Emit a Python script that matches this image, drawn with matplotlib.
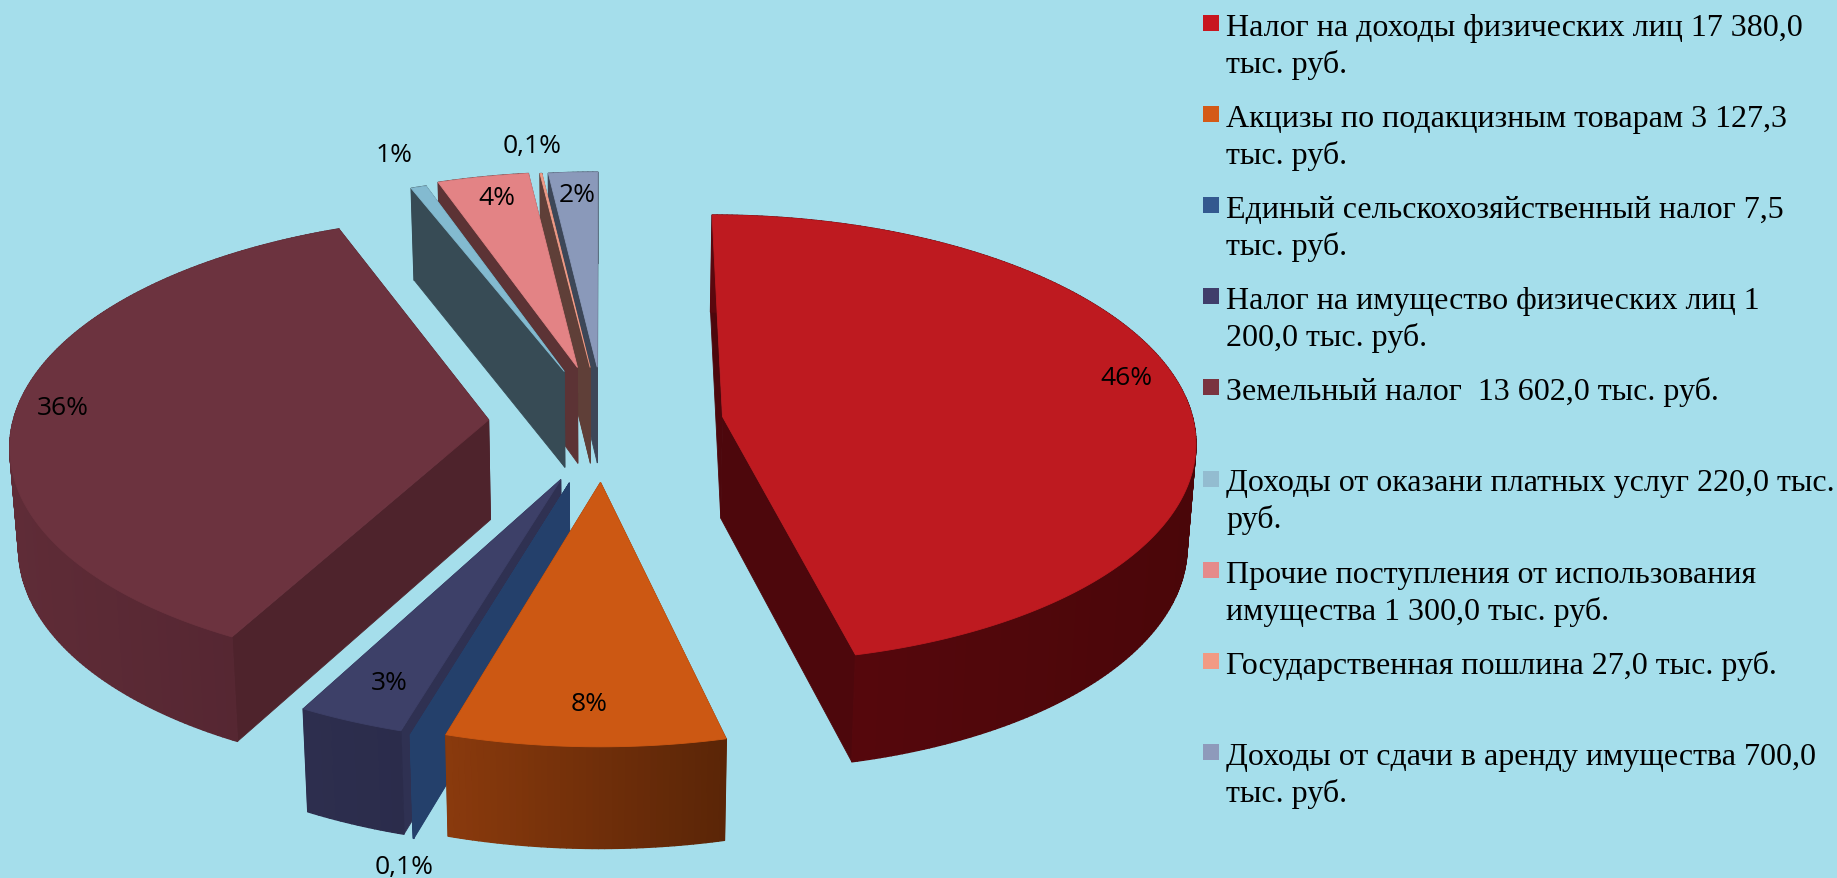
import numpy as np
import matplotlib
matplotlib.use("Agg")
import matplotlib.pyplot as plt
from matplotlib.collections import PolyCollection
from matplotlib.colors import to_rgb

# ---- data ----
names = ["Налог на доходы физических лиц 17 380,0\nтыс. руб.",
         "Акцизы по подакцизным товарам 3 127,3\nтыс. руб.",
         "Единый сельскохозяйственный налог 7,5\nтыс. руб.",
         "Налог на имущество физических лиц 1\n200,0 тыс. руб.",
         "Земельный налог  13 602,0 тыс. руб.",
         "Доходы от оказани платных услуг 220,0 тыс.\nруб.",
         "Прочие поступления от использования\nимущества 1 300,0 тыс. руб.",
         "Государственная пошлина 27,0 тыс. руб.",
         "Доходы от сдачи в аренду имущества 700,0\nтыс. руб."]
values = [17380.0, 3127.3, 7.5, 1200.0, 13602.0, 220.0, 1300.0, 27.0, 700.0]
pct_labels = ["46%", "8%", "0,1%", "3%", "36%", "1%", "4%", "0,1%", "2%"]

# ---- style ----
BG = "#A5DEEB"
legend_colors = ["#C8161F", "#D45A17", "#33598F", "#403E6B", "#7A3440",
                 "#93BCD0", "#E58A8B", "#F29A84", "#8E9ABB"]
top_colors = ["#BE1A20", "#CC5813", "#24406B", "#3D4068", "#6C333F",
              "#83BAD0", "#E38385", "#F09C88", "#8A99BA"]
cut_colors = ["#4D070C", "#6E2E0C", "#24406B", "#2F3152", "#4E232C",
              "#374B55", "#5C3335", "#5F3F38", "#3D4758"]
side_left = ["#5A080E", "#8A3A0D", "#24406B", "#2D2E4E", "#5F2C37",
             "#374B55", "#5C3335", "#5F3F38", "#3D4758"]
side_right = ["#4A0609", "#5A2507", "#24406B", "#2B2C4B", "#512430",
              "#374B55", "#5C3335", "#5F3F38", "#3D4758"]
explode = [0.245, 0.265, 0.27, 0.265, 0.245, 0.25, 0.25, 0.25, 0.25]
radius = [0.99, 1, 1, 1, 1, 1, 1, 1, 1]
depth_scale = [1.05, 0.98, 1, 1, 1.03, 1, 1, 1, 1]
nudge = [(4, 2), (1, 0), (4, 2), (7, 2), (2, 2), (2, 2), (1, 0), (1, 1), (1, 1)]
label_xy = [(1126, 379), (589, 705), (404, 868), (389, 684), (63, 409),
            (394, 155), (497, 199), (532, 147), (577, 196)]
draw_order = [8, 7, 6, 5, 4, 3, 2, 1, 0]

# camera of the tilted pie
X0, Y0, SX, SY, PERSP, DEPTH, SHRINK = 603, 422, 476, 225, 0.10, 97, 0.985

# legend layout
LEG_X, LEG_SW_X, LEG_Y0, LEG_STEP, LEG_LINE = 1226, 1203, 36, 91.1, 37

plt.rcParams["font.family"] = ["Liberation Serif"]
fig = plt.figure(figsize=(18.37, 8.79), dpi=100, facecolor=BG)
ax = fig.add_axes([0, 0, 1, 1])
ax.set_xlim(0, 1837)
ax.set_ylim(879, 0)
ax.axis("off")


def project(u, v, off, bottom=False, scale=1.0):
    w = 1 + PERSP * v
    x = X0 + SX * u / w
    y = Y0 - SY * v / w
    if bottom:
        x = X0 + (x - X0) * SHRINK
        y = y + scale * DEPTH / np.sqrt(w)
    return x + off[0], y + off[1]


def poly(pts, color, z):
    ax.fill(*zip(*pts), color=color, lw=0.6, zorder=z)


shares = np.array(values) / np.sum(values) * 360.0
ends = np.cumsum(shares)
starts = ends - shares

z = 1
for i in draw_order:
    a0, a1 = starts[i], ends[i]
    off, ds = nudge[i], depth_scale[i]
    mid = np.radians((a0 + a1) / 2)
    cu, cv = explode[i] * np.sin(mid), explode[i] * np.cos(mid)
    th = np.radians(np.linspace(a0, a1, max(int((a1 - a0) * 1.5), 2) + 1))
    us, vs = cu + radius[i] * np.sin(th), cv + radius[i] * np.cos(th)
    # radial cut faces
    for k in (0, -1):
        quad = [project(cu, cv, off), project(us[k], vs[k], off),
                project(us[k], vs[k], off, True, ds),
                project(cu, cv, off, True, ds)]
        poly(quad, cut_colors[i], z)
    z += 1
    # outer wall with a left to right gradient
    xt, yt = project(us, vs, off)
    xb, yb = project(us, vs, off, True, ds)
    quads, cols = [], []
    lo, hi = min(xt.min(), xb.min()), max(xt.max(), xb.max())
    cl, cr = np.array(to_rgb(side_left[i])), np.array(to_rgb(side_right[i]))
    for k in range(len(th) - 1):
        quads.append([(xt[k], yt[k]), (xt[k + 1], yt[k + 1]),
                      (xb[k + 1], yb[k + 1]), (xb[k], yb[k])])
        f = ((xt[k] + xt[k + 1]) / 2 - lo) / max(hi - lo, 1)
        cols.append(cl + (cr - cl) * f)
    ax.add_collection(PolyCollection(quads, facecolors=cols, edgecolors=cols,
                                     linewidths=1.0, zorder=z))
    z += 1
    # top face
    poly([project(cu, cv, off)] + list(zip(xt, yt)), top_colors[i], z)
    z += 1

for lab, (x, y) in zip(pct_labels, label_xy):
    ax.text(x, y, lab, ha="center", va="center", fontsize=19,
            family="Open Sans", color="black", zorder=100)

for i, (name, col) in enumerate(zip(names, legend_colors)):
    base = LEG_Y0 + i * LEG_STEP
    ax.add_patch(plt.Rectangle((LEG_SW_X, base - 20), 16, 16, color=col, lw=0))
    for j, line in enumerate(name.split("\n")):
        ax.text(LEG_X, base + j * LEG_LINE, line, ha="left", va="baseline",
                fontsize=23, color="black")

fig.savefig("out.png", dpi=100, facecolor=BG)
